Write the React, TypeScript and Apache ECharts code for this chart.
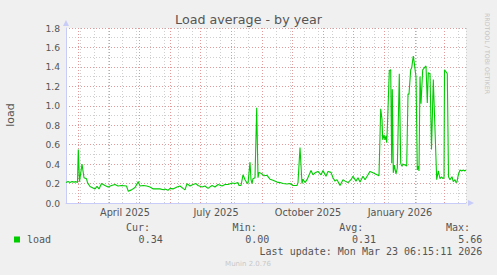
import React, { useEffect, useRef } from "react";
import * as echarts from "echarts";

// x = days since 17 Feb 2025 (400-day window ending 23 Mar 2026)
const days = [
  0, 2, 4, 6, 8, 10, 11.5, 12.3, 13.5, 16, 18, 20.5, 21.5, 24, 27, 29, 31, 33, 35.5, 39,
  42, 45.5, 49, 52, 55.5, 60.5, 62.3, 65.5, 69, 72.3, 74, 77.3, 80.7, 84, 87.3, 90.7, 94, 97.3, 99, 102,
  104, 107, 111, 114, 117, 119, 121, 124, 127, 130, 132, 136, 139, 142, 146, 149, 152, 156, 159, 162,
  166, 169, 172, 173, 175, 177, 179, 181, 182, 184, 185, 186, 187, 189, 190.7, 192, 193, 196, 198, 201,
  204, 207, 211, 214, 217, 221, 224, 227, 231, 232, 234, 236, 237, 239, 241, 245, 247, 249, 252, 255,
  257, 260, 262, 265, 267, 269, 271, 274, 277, 279, 282, 285, 287, 290, 292, 294, 297, 299, 302, 304,
  307, 311, 313, 314.7, 316, 316.7, 318, 319, 320, 320.7, 321.3, 323.3, 324.7, 325.7, 326.3, 327.3, 328.3, 330, 331.3, 333.3,
  334.7, 335.7, 337.3, 339, 340.7, 342, 343, 344.7, 345.7, 346.7, 347.3, 348.3, 349.3, 350, 351.3, 352.3, 353, 354, 355, 356.7,
  358.3, 360, 361.3, 362.3, 364, 365.5, 367.3, 370.7, 372.3, 374, 375.5, 377, 378, 378.5, 380, 381.3, 382.5, 384, 386, 387.3,
  389, 390, 391, 392.3, 394, 395.7, 397.3, 399, 400,
];
const loads = [
  0.21, 0.22, 0.21, 0.22, 0.215, 0.22, 0.21, 0.55, 0.22, 0.4, 0.26, 0.25, 0.21, 0.17, 0.155, 0.145, 0.17, 0.145, 0.2, 0.18,
  0.165, 0.18, 0.19, 0.175, 0.18, 0.175, 0.12, 0.135, 0.16, 0.22, 0.175, 0.18, 0.175, 0.165, 0.145, 0.145, 0.145, 0.137, 0.144, 0.13,
  0.15, 0.145, 0.165, 0.175, 0.15, 0.135, 0.2, 0.175, 0.19, 0.2, 0.18, 0.165, 0.175, 0.15, 0.18, 0.165, 0.19, 0.175, 0.19, 0.19,
  0.205, 0.2, 0.21, 0.18, 0.18, 0.29, 0.24, 0.205, 0.2, 0.42, 0.24, 0.2, 0.25, 0.26, 0.98, 0.26, 0.315, 0.3, 0.28, 0.285,
  0.245, 0.235, 0.215, 0.21, 0.2, 0.195, 0.2, 0.18, 0.18, 0.21, 0.57, 0.2, 0.245, 0.21, 0.24, 0.335, 0.29, 0.31, 0.325, 0.29,
  0.335, 0.275, 0.325, 0.315, 0.26, 0.225, 0.24, 0.18, 0.24, 0.225, 0.21, 0.24, 0.275, 0.225, 0.26, 0.215, 0.275, 0.24, 0.29, 0.325,
  0.31, 0.29, 0.28, 0.97, 0.86, 0.65, 0.7, 0.65, 0.69, 0.62, 0.76, 1.36, 1.37, 0.41, 1.17, 0.31, 0.39, 0.3, 0.36, 1.33,
  0.41, 0.38, 0.4, 0.39, 0.38, 1.12, 1.12, 1.37, 1.39, 1.47, 1.51, 1.44, 1.35, 1.3, 0.34, 0.38, 0.33, 1.3, 1.02, 1.37,
  1.39, 1.41, 1.03, 1.34, 1.33, 0.55, 1.27, 0.24, 0.33, 0.25, 0.27, 0.25, 0.26, 1.37, 1.35, 1.33, 0.27, 0.24, 0.27, 0.22,
  0.24, 0.21, 0.22, 0.29, 0.34, 0.33, 0.34, 0.33, 0.34,
];

const monthStartDays = [12.5, 43, 73, 104, 134, 165, 196, 226, 257, 287, 318, 349, 378];
const labelDays = [59, 150, 242, 334];
const labelTexts = ["April 2025", "July 2025", "October 2025", "January 2026"];

const legendHeaders = ["Cur:", "Min:", "Avg:", "Max:"];
const legendValues = ["0.34", "0.00", "0.31", "5.66"];
const headerRightX = [150, 256.7, 363.3, 470];
const valueRightX = [162.7, 269.3, 376, 482.3];

const SANS = "DejaVu Sans";
const MONO = "DejaVu Sans Mono";
const TXT = "#555555";
const MAJOR = "#e49a9a";
const MINOR = "#cfcfcf";
const AXIS = "#c8ccf8";

export default function App() {
  const ref = useRef<HTMLDivElement>(null);
  useEffect(() => {
    if (!ref.current) return;
    const chart = echarts.init(ref.current, null, { renderer: "svg" });
    const grid = { left: 66, top: 28, width: 400, height: 175 };

    const graphic: any[] = [
      {
        type: "text", x: 248.5, y: 19.7,
        style: { text: "Load average - by year", font: `12.7px "${SANS}"`, fill: TXT, align: "center", verticalAlign: "middle", textAlign: "center", textVerticalAlign: "middle" },
      },
      {
        type: "text", x: 10, y: 115, rotation: Math.PI / 2,
        style: { text: "load", font: `11px "${SANS}"`, fill: TXT, align: "center", verticalAlign: "middle", textAlign: "center", textVerticalAlign: "middle" },
      },
      {
        type: "text", x: 487, y: 53.5, rotation: -Math.PI / 2,
        style: { text: "RRDTOOL / TOBI OETIKER", font: `6.3px "${SANS}"`, fill: "#c4c4c4", align: "center", verticalAlign: "middle", textAlign: "center", textVerticalAlign: "middle" },
      },
      { type: "rect", shape: { x: 14, y: 236.5, width: 6, height: 6 }, style: { fill: "#00cc00" } },
      {
        type: "text", x: 27, y: 239.3,
        style: { text: "load", font: `10px "${MONO}"`, fill: TXT, align: "left", verticalAlign: "middle", textAlign: "left", textVerticalAlign: "middle" },
      },
      {
        type: "text", x: 482.3, y: 251,
        style: { text: "Last update: Mon Mar 23 06:15:11 2026", font: `10px "${MONO}"`, fill: TXT, align: "right", verticalAlign: "middle", textAlign: "right", textVerticalAlign: "middle" },
      },
      {
        type: "text", x: 248, y: 264,
        style: { text: "Munin 2.0.76", font: `7px "${SANS}"`, fill: "#c8c8c8", align: "center", verticalAlign: "middle", textAlign: "center", textVerticalAlign: "middle" },
      },
    ];
    legendHeaders.forEach((h, i) => {
      graphic.push({
        type: "text", x: headerRightX[i], y: 227.5,
        style: { text: h, font: `10px "${MONO}"`, fill: TXT, align: "right", verticalAlign: "middle", textAlign: "right", textVerticalAlign: "middle" },
      });
      graphic.push({
        type: "text", x: valueRightX[i], y: 239.3,
        style: { text: legendValues[i], font: `10px "${MONO}"`, fill: TXT, align: "right", verticalAlign: "middle", textAlign: "right", textVerticalAlign: "middle" },
      });
    });

    chart.setOption({
      animation: false,
      backgroundColor: "#f0f0f0",
      grid: { ...grid, show: true, backgroundColor: "#ffffff", borderWidth: 0, containLabel: false },
      xAxis: [
        {
          type: "value", min: 0, max: 400, z: 3,
          axisLine: { show: true, lineStyle: { color: AXIS, width: 1 }, symbol: ["none", "triangle"], symbolSize: [6, 6], symbolOffset: [0, 5] },
          axisTick: { show: false, customValues: monthStartDays },
          splitLine: { show: true, lineStyle: { color: MAJOR, width: 1, type: [1, 2] } },
          axisLabel: {
            show: true, customValues: labelDays, margin: 4,
            formatter: (v: number) => { const i = labelDays.indexOf(v); return i >= 0 ? labelTexts[i] : ""; },
            color: TXT, fontFamily: SANS, fontSize: 9.7,
          },
        },
        {
          type: "value", min: 0, max: 400, interval: 14, position: "bottom", z: 1,
          axisLine: { show: false }, axisTick: { show: false }, axisLabel: { show: false },
          splitLine: { show: true, lineStyle: { color: MINOR, width: 1, type: [1, 2] } },
        },
      ],
      yAxis: {
        type: "value", min: 0, max: 1.8, interval: 0.2, z: 2,
        axisLine: { show: true, lineStyle: { color: AXIS, width: 1 }, symbol: ["none", "triangle"], symbolSize: [6, 6], symbolOffset: [0, 5] },
        axisTick: { show: false },
        minorTick: { show: false, splitNumber: 2 },
        splitLine: { show: true, lineStyle: { color: MAJOR, width: 1, type: [1, 2] } },
        minorSplitLine: { show: true, lineStyle: { color: MINOR, width: 1, type: [1, 2] } },
        axisLabel: { color: TXT, fontFamily: SANS, fontSize: 9.2, margin: 6, formatter: (v: number) => v.toFixed(1) },
      },
      series: [
        {
          type: "line", xAxisIndex: 0, yAxisIndex: 0, z: 5,
          data: days.map((d, i) => [d, loads[i]]),
          showSymbol: false, symbol: "none",
          lineStyle: { color: "#00cc00", width: 1.1 },
          clip: true,
        },
      ],
      graphic,
    });
    return () => chart.dispose();
  }, []);
  return <div ref={ref} style={{ position: "fixed", left: 0, top: 0, width: 497, height: 275 }} />;
}
